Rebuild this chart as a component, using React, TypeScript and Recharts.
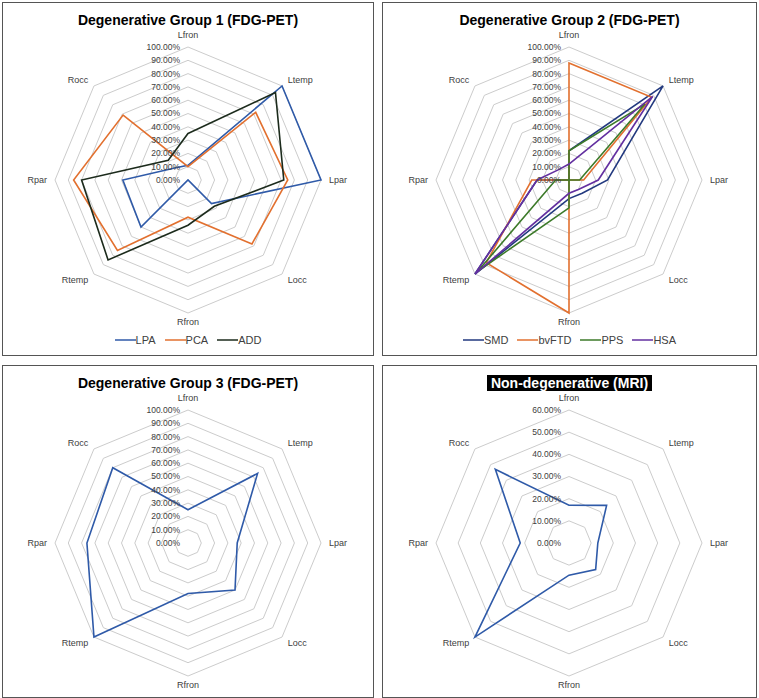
import React from 'react';
import { RadarChart, Radar, PolarGrid, PolarAngleAxis, PolarRadiusAxis, Legend } from 'recharts';

const categories = ['Lfron', 'Ltemp', 'Lpar', 'Locc', 'Rfron', 'Rtemp', 'Rpar', 'Rocc'];

// Degenerative Group 1 (FDG-PET), values in %
const g1Names = ['LPA', 'PCA', 'ADD'];
const g1LPA = [11, 100, 100, 25, 0, 50, 49, 13];
const g1PCA = [10, 72, 75, 68, 28, 75, 86, 69];
const g1ADD = [35, 93, 72, 28, 34, 85, 80, 21];
const g1Colors = ['#2f5aa8', '#e2702f', '#1c2b1c'];

// Degenerative Group 2 (FDG-PET)
const g2Names = ['SMD', 'bvFTD', 'PPS', 'HSA'];
const g2SMD = [22, 100, 29, 14, 14, 100, 24, 0];
const g2bvFTD = [88, 88, 11, 0, 100, 88, 28, 0];
const g2PPS = [22, 81, 8, 0, 21, 97, 10, 0];
const g2HSA = [12, 89, 22, 10, 10, 100, 24, 11];
const g2Colors = ['#22397f', '#e2702f', '#3c7a29', '#6330a0'];

// Degenerative Group 3 (FDG-PET)
const g3Values = [25, 74, 37, 50, 38, 100, 76, 80];
// Non-degenerative (MRI)
const g4Values = [17, 24, 13, 17, 14.5, 60, 22, 47];
const singleColor = '#2f5aa8';

const maxTop = 100;
const maxMri = 60;

const FONT = '"Liberation Sans", Arial, sans-serif';
const TEXT = '#404040';

const data1 = categories.map((c, i) => ({ cat: c, LPA: g1LPA[i], PCA: g1PCA[i], ADD: g1ADD[i] }));
const data2 = categories.map((c, i) => ({ cat: c, SMD: g2SMD[i], bvFTD: g2bvFTD[i], PPS: g2PPS[i], HSA: g2HSA[i] }));
const data3 = categories.map((c, i) => ({ cat: c, value: g3Values[i] }));
const data4 = categories.map((c, i) => ({ cat: c, value: g4Values[i] }));

const makeAngleTick = (ccx: number, ccy: number) => (props: any) => {
  const { x, y, payload, textAnchor } = props;
  let yy = y;
  if (Math.abs(x - ccx) < 1) {
    yy = y < ccy ? y - 4 : y + 1;
  }
  return (
    <text x={x} y={yy} dy="0.35em" textAnchor={textAnchor} fontSize={9} fontFamily={FONT} fill={TEXT}>
      {payload.value}
    </text>
  );
};

const RadiusTick = (props: any) => {
  const { x, y, payload } = props;
  return (
    <text x={x - 8} y={y} dy="0.35em" textAnchor="end" fontSize={8.5} fontFamily={FONT} fill={TEXT}>
      {`${Number(payload.value).toFixed(2)}%`}
    </text>
  );
};

const LegendRow = ({ names, colors }: { names: string[]; colors: string[] }) => (
  <div style={{ display: 'flex', justifyContent: 'center', alignItems: 'center', gap: 9, fontFamily: FONT, fontSize: 11, color: TEXT, lineHeight: '14px' }}>
    {names.map((n, i) => (
      <div key={n} style={{ display: 'flex', alignItems: 'center' }}>
        <svg width={21} height={12} style={{ display: 'block' }}>
          <line x1={0} x2={21} y1={6} y2={6} stroke={colors[i]} strokeWidth={1.5} />
        </svg>
        <span>{n}</span>
      </div>
    ))}
  </div>
);

type PanelProps = {
  left: number;
  top: number;
  width: number;
  height: number;
  title: string;
  dark?: boolean;
  data: any[];
  keys: string[];
  colors: string[];
  max: number;
  legend?: boolean;
  cx: number;
  cy: number;
};

const Panel = ({ left, top, width, height, title, dark, data, keys, colors, max, legend, cx, cy }: PanelProps) => {
  const innerW = width - 2;
  const innerH = height - 2;
  return (
    <div
      style={{
        position: 'absolute',
        left,
        top,
        width,
        height,
        boxSizing: 'border-box',
        border: '1px solid #555',
        background: '#fff',
      }}
    >
      <RadarChart
        width={innerW}
        height={innerH}
        data={data}
        cx={cx}
        cy={cy}
        outerRadius={133}
        margin={{ top: 0, right: 0, bottom: 0, left: 0 }}
      >
        <PolarGrid gridType="polygon" radialLines={false} stroke="#cccccc" />
        <PolarAngleAxis dataKey="cat" tick={makeAngleTick(cx, cy)} tickLine={false} axisLine={false} />
        <PolarRadiusAxis
          angle={90}
          type="number"
          domain={[0, max]}
          tickCount={max / 10 + 1}
          tick={RadiusTick}
          tickLine={false}
          axisLine={false}
        />
        {keys.map((k, i) => (
          <Radar
            key={k}
            name={k}
            dataKey={k}
            stroke={colors[i]}
            strokeWidth={1.6}
            fill="none"
            fillOpacity={0}
            dot={false}
            isAnimationActive={false}
          />
        ))}
        {legend && (
          <Legend
            verticalAlign="bottom"
            wrapperStyle={{ top: 330, bottom: 'auto', left: 0, width: innerW }}
            content={() => <LegendRow names={keys} colors={colors} />}
          />
        )}
      </RadarChart>
      <div
        style={{
          position: 'absolute',
          top: 9,
          left: 0,
          width: innerW,
          textAlign: 'center',
          fontFamily: FONT,
          fontWeight: 'bold',
          fontSize: 14,
          lineHeight: '16px',
          pointerEvents: 'none',
        }}
      >
        <span
          style={
            dark
              ? { background: '#000', color: '#fff', padding: '0 4px', display: 'inline-block' }
              : { color: '#000' }
          }
        >
          {title}
        </span>
      </div>
    </div>
  );
};

export default function App() {
  return (
    <div style={{ position: 'absolute', left: 0, top: 0, width: 759, height: 698, background: '#fff' }}>
      <Panel
        left={2}
        top={2}
        width={372}
        height={354}
        title="Degenerative Group 1 (FDG-PET)"
        data={data1}
        keys={g1Names}
        colors={g1Colors}
        max={maxTop}
        legend
        cx={185}
        cy={177}
      />
      <Panel
        left={382}
        top={2}
        width={375}
        height={354}
        title="Degenerative Group 2 (FDG-PET)"
        data={data2}
        keys={g2Names}
        colors={g2Colors}
        max={maxTop}
        legend
        cx={186}
        cy={177}
      />
      <Panel
        left={2}
        top={365}
        width={372}
        height={333}
        title="Degenerative Group 3 (FDG-PET)"
        data={data3}
        keys={['value']}
        colors={[singleColor]}
        max={maxTop}
        cx={185}
        cy={177}
      />
      <Panel
        left={382}
        top={365}
        width={375}
        height={333}
        title="Non-degenerative (MRI)"
        dark
        data={data4}
        keys={['value']}
        colors={[singleColor]}
        max={maxMri}
        cx={186}
        cy={177}
      />
    </div>
  );
}
